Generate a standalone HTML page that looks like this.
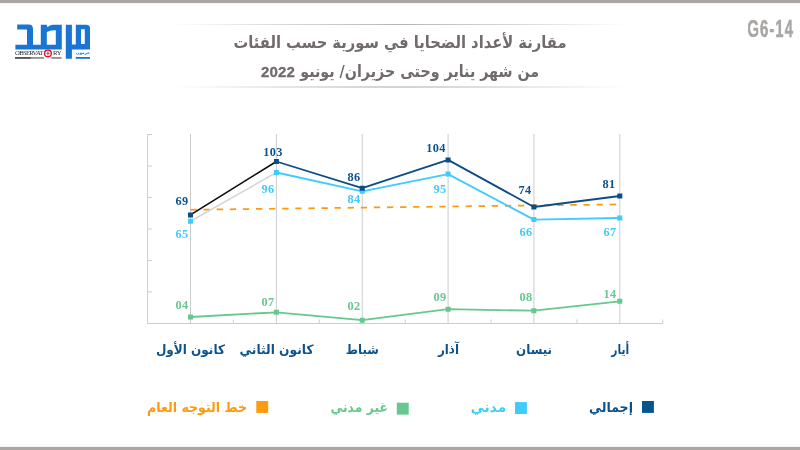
<!DOCTYPE html>
<html lang="ar">
<head>
<meta charset="utf-8">
<title>مقارنة لأعداد الضحايا في سورية حسب الفئات</title>
<style>
html,body{margin:0;padding:0;background:#fff}
body{position:relative;width:800px;height:450px;overflow:hidden;font-family:"Liberation Sans",sans-serif}
.bar{position:absolute;left:0;width:800px;background:#aba7a4}
.bar.t{top:0;height:3px;box-shadow:0 0 1px #aba7a4}
.bar.b{bottom:0;height:3px;box-shadow:0 0 1px #aba7a4}
.rule{position:absolute;left:172px;width:456px;height:1px;background:linear-gradient(90deg,rgba(184,180,178,0),rgba(184,180,178,.55) 25%,#b8b4b2 50%,rgba(184,180,178,.55) 75%,rgba(184,180,178,0))}
.rule.a{top:24px}
.rule.b{top:86px;height:2px;opacity:.62}
.code{position:absolute;right:6.4px;top:15.3px;width:80px;height:28px;line-height:28px;font-size:24px;font-weight:bold;color:#aaa6a4;-webkit-text-stroke:.5px #aaa6a4;text-align:right;white-space:nowrap;transform:scaleX(.625);transform-origin:100% 50%;letter-spacing:1.6px}
.yr{position:absolute;left:252px;top:61.7px;width:52px;height:20px;line-height:20px;text-align:center;font-size:15px;font-weight:bold;color:#726b6b;letter-spacing:.2px;-webkit-text-stroke:.3px #726b6b}
svg.art{position:absolute;left:0;top:0}
svg.art text{font-family:"DejaVu Sans","Liberation Sans",sans-serif;font-weight:bold;direction:rtl;unicode-bidi:embed}
.v{position:absolute;width:40px;height:12px;line-height:12px;margin-left:-20px;text-align:center;font-family:"Liberation Serif",serif;font-weight:bold;font-size:12.3px;letter-spacing:.3px;white-space:nowrap}
.v.t{color:#0c528d}.v.c{color:#3fcbfb}.v.n{color:#66c88f}
.obs{position:absolute;top:49px;height:8px;line-height:8px;font-family:"Liberation Serif",serif;font-size:6.7px;color:#2b2b2b;white-space:nowrap}
.obs.l{left:15px;letter-spacing:-.68px}
.obs.r{left:53px;letter-spacing:-.45px}
.v,.yr,.code,.obs{will-change:transform}

</style>
</head>
<body>
<div class="bar t"></div>
<div class="bar b"></div>
<div class="obs l">OBSERVAT</div>
<div class="obs r">RY</div>
<div class="code">G6-14</div>
<div class="rule a"></div>
<div class="rule b"></div>
<div class="yr">2022</div>
<svg class="art" width="800" height="450" viewBox="0 0 800 450">
<g id="logo">
<path fill="#1a74d2" fill-rule="evenodd" d="M17.2 24.6H28.6Q33 24.6 33 29V44.7H40.8V24.7H46.8L47.4 27.2Q49.6 25 52.6 24.7H61.8V49.6H15.4V44.7H27V30.6Q27 29.6 26 29.6H17.2ZM46.8 32Q50 30.3 54 30.2H55.8V44.7H46.8ZM65.8 24.7H71.9V44.6H75.8V24.7H86.4Q90 24.7 90 28.3V49.6H71.9V58.8H65.8ZM81 29.3H84.8V43.9H81Z"/>
<rect x="75.8" y="57" width="14.2" height="1.8" fill="#1a74d2"/>
<rect x="15" y="57.2" width="29" height="1.5" fill="#7a7a7a"/>
<rect x="15" y="57.2" width="15.8" height="1.5" fill="#4a4a4a"/>
<rect x="51.3" y="57.2" width="10.3" height="1.5" fill="#7a7a7a"/>
<circle cx="47.95" cy="53.4" r="4.1" fill="#fff"/>
<circle cx="47.95" cy="53.4" r="3.35" fill="#fff" stroke="#e0182a" stroke-width="1.4"/>
<path d="M47.95 50.9v5M45.45 53.4h5" stroke="#ee7f88" stroke-width=".8" fill="none"/>
<circle cx="47.95" cy="53.4" r=".9" fill="#e0182a"/>
</g>

<g id="chart">
<g fill="none" stroke="#cecece" stroke-width="1">
<path d="M147.6 134V323.5H662.7"/>
<path d="M147.6 291.9h4.6M147.6 260.6h4.6M147.6 229.0h4.6M147.6 197.4h4.6M147.6 166.1h4.6M147.6 134.5h4.6M233.4 323.5v-4M319.3 323.5v-4M405.2 323.5v-4M491.0 323.5v-4M576.9 323.5v-4M662.7 323.5v-4"/>
</g>
<g fill="none" stroke="#cbcbcb" stroke-width="1">
<path d="M190.50 134V323.5M276.36 134V323.5M362.22 134V323.5M448.08 134V323.5M533.94 134V323.5M619.80 134V323.5"/>
</g>
<path d="M190.5 209.8L617.8 204.4" fill="none" stroke="#fc9b10" stroke-width="1.75" stroke-dasharray="6.3 6.8"/>
<polyline points="190.5,317.0 276.4,312.3 362.2,320.2 448.1,309.2 533.9,310.7 619.8,301.3" fill="none" stroke="#66c88f" stroke-width="1.8" stroke-linejoin="round"/>
<path fill="#66c88f" d="M188.0 314.5h5v5h-5zM273.9 309.8h5v5h-5zM359.7 317.7h5v5h-5zM445.6 306.7h5v5h-5zM531.4 308.2h5v5h-5zM617.3 298.8h5v5h-5z"/>
<polyline points="276.4,172.5 362.2,191.3 448.1,174.1 533.9,219.6 619.8,218.0" fill="none" stroke="#3fcbfb" stroke-width="1.8" stroke-linejoin="round"/>
<line x1="190.5" y1="221.2" x2="276.4" y2="172.5" stroke="#d6d6d6" stroke-width="1.6"/>
<path fill="#3fcbfb" d="M188.0 218.7h5v5h-5zM273.9 170.0h5v5h-5zM359.7 188.8h5v5h-5zM445.6 171.6h5v5h-5zM531.4 217.1h5v5h-5zM617.3 215.5h5v5h-5z"/>
<polyline points="276.4,161.5 362.2,188.2 448.1,159.9 533.9,207.0 619.8,196.0" fill="none" stroke="#0a4d87" stroke-width="1.8" stroke-linejoin="round"/>
<line x1="190.5" y1="214.9" x2="276.4" y2="161.5" stroke="#0a0a0a" stroke-width="1.6"/>
<path fill="#0a4d87" d="M188.0 212.4h5v5h-5zM273.9 159.0h5v5h-5zM359.7 185.7h5v5h-5zM445.6 157.4h5v5h-5zM531.4 204.5h5v5h-5zM617.3 193.5h5v5h-5z"/>
</g>
<text x="400" y="48" text-anchor="middle" font-size="16.5" fill="#726b6b" textLength="333" lengthAdjust="spacingAndGlyphs">مقارنة لأعداد الضحايا في سورية حسب الفئات</text>
<text x="419.7" y="76.5" text-anchor="middle" font-size="16.5" fill="#726b6b" textLength="239" lengthAdjust="spacingAndGlyphs">من شهر يناير وحتى حزيران/ يونيو</text>
<text x="190.4" y="353.5" text-anchor="middle" font-size="13" fill="#0c528d" textLength="69" lengthAdjust="spacingAndGlyphs">كانون الأول</text>
<text x="276.5" y="353.5" text-anchor="middle" font-size="13" fill="#0c528d" textLength="74" lengthAdjust="spacingAndGlyphs">كانون الثاني</text>
<text x="362.3" y="353.5" text-anchor="middle" font-size="13" fill="#0c528d" textLength="33" lengthAdjust="spacingAndGlyphs">شباط</text>
<text x="448.5" y="353.5" text-anchor="middle" font-size="13" fill="#0c528d" textLength="21" lengthAdjust="spacingAndGlyphs">آذار</text>
<text x="534.1" y="353.5" text-anchor="middle" font-size="13" fill="#0c528d" textLength="36" lengthAdjust="spacingAndGlyphs">نيسان</text>
<text x="620.2" y="353.5" text-anchor="middle" font-size="13" fill="#0c528d" textLength="18" lengthAdjust="spacingAndGlyphs">أيار</text>
<text x="197" y="411.7" text-anchor="middle" font-size="13.5" fill="#fc9b10" textLength="100" lengthAdjust="spacingAndGlyphs">خط التوجه العام</text>
<text x="359.2" y="411.7" text-anchor="middle" font-size="13.5" fill="#66c88f" textLength="57.5" lengthAdjust="spacingAndGlyphs">غير مدني</text>
<text x="488.4" y="411.7" text-anchor="middle" font-size="13.5" fill="#3fcbfb" textLength="35.5" lengthAdjust="spacingAndGlyphs">مدني</text>
<text x="611" y="411.7" text-anchor="middle" font-size="13.5" fill="#0c528d" textLength="44" lengthAdjust="spacingAndGlyphs">إجمالي</text>
<text x="83" y="54.4" text-anchor="middle" font-size="4" fill="#1a74d2" textLength="14" lengthAdjust="spacingAndGlyphs">حرمون</text>
<rect x="256.3" y="401.0" width="11.9" height="11.9" fill="#fc9b10"/>
<rect x="396.8" y="402.7" width="11.9" height="11.9" fill="#66c88f"/>
<rect x="515.0" y="402.1" width="11.9" height="11.9" fill="#3fcbfb"/>
<rect x="642.0" y="401.0" width="11.9" height="11.9" fill="#07548f"/>
</svg>
<div class="v t" style="left:182.0px;top:194.8px">69</div>
<div class="v t" style="left:273.1px;top:145.6px">103</div>
<div class="v t" style="left:353.6px;top:170.5px">86</div>
<div class="v t" style="left:436.4px;top:141.8px">104</div>
<div class="v t" style="left:525.3px;top:183.8px">74</div>
<div class="v t" style="left:609.3px;top:178.2px">81</div>
<div class="v c" style="left:182.0px;top:228.3px">65</div>
<div class="v c" style="left:267.7px;top:183.0px">96</div>
<div class="v c" style="left:353.6px;top:192.9px">84</div>
<div class="v c" style="left:439.7px;top:183.2px">95</div>
<div class="v c" style="left:525.5px;top:225.8px">66</div>
<div class="v c" style="left:609.7px;top:225.8px">67</div>
<div class="v n" style="left:182.0px;top:299.1px">04</div>
<div class="v n" style="left:267.6px;top:296.2px">07</div>
<div class="v n" style="left:353.6px;top:299.8px">02</div>
<div class="v n" style="left:439.7px;top:291.1px">09</div>
<div class="v n" style="left:525.5px;top:290.6px">08</div>
<div class="v n" style="left:610.0px;top:287.6px">14</div>
</body>
</html>
